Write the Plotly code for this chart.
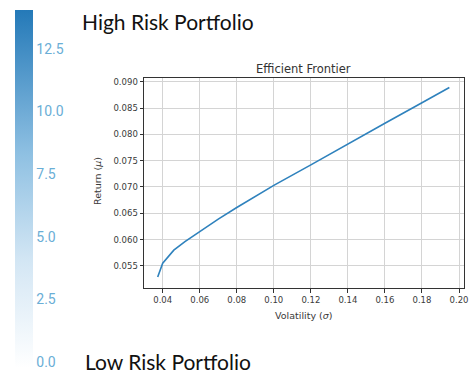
import plotly.graph_objects as go

W, H = 475, 381

# Efficient frontier: portfolio volatility vs. expected return
volatility = [0.0373, 0.0400, 0.0460, 0.0520, 0.0600, 0.0700, 0.0800, 0.0900,
              0.1000, 0.1200, 0.1400, 0.1600, 0.1800, 0.1948]
returns = [0.0529, 0.0555, 0.0580, 0.0596, 0.0615, 0.0639, 0.0661, 0.0682,
           0.0703, 0.0742, 0.0782, 0.0821, 0.0860, 0.0889]

# Risk scale shown on the colour bar
risk_ticks = [0.0, 2.5, 5.0, 7.5, 10.0, 12.5]
risk_tick_labels = ["0.0", "2.5", "5.0", "7.5", "10.0", "12.5"]
risk_min, risk_max = -0.25, 14.06

x_ticks = [0.04, 0.06, 0.08, 0.10, 0.12, 0.14, 0.16, 0.18, 0.20]
y_ticks = [0.055, 0.060, 0.065, 0.070, 0.075, 0.080, 0.085, 0.090]


def px_x(p):
    return p / W


def px_y(p):
    return 1 - p / H


fig = go.Figure()

fig.add_trace(go.Scatter(
    x=volatility, y=returns, mode="lines",
    line=dict(color="#2f82bd", width=1.6),
    showlegend=False, hoverinfo="skip",
))

# Colour bar carried by an invisible trace
fig.add_trace(go.Scatter(
    x=[None], y=[None], mode="markers", showlegend=False, hoverinfo="skip",
    marker=dict(
        color=[0], cmin=risk_min, cmax=risk_max,
        colorscale=[[0, "#ffffff"], [0.3, "#d3e6f4"], [0.6, "#8ec0e2"], [1, "#2479b8"]],
        showscale=True,
        colorbar=dict(
            x=px_x(15), xanchor="left", y=px_y(368), yanchor="bottom",
            len=358, lenmode="pixels", thickness=18, thicknessmode="pixels",
            xpad=0, ypad=0, outlinewidth=0, ticks="",
            tickvals=risk_ticks, ticktext=risk_tick_labels,
            tickfont=dict(family="Roboto", size=14, color="#6aaed6"),
        ),
    ),
))

tick_font = dict(family="DejaVu Sans", size=8.5, color="#3a3a3a")
axis_common = dict(
    showline=True, mirror=True, linecolor="#333333", linewidth=1,
    showgrid=True, gridcolor="#d4d4d4", gridwidth=1,
    ticks="outside", ticklen=3.5, tickcolor="#333333", tickwidth=1,
    tickfont=tick_font, zeroline=False, automargin=False,
)

fig.update_layout(
    width=W, height=H,
    margin=dict(l=0, r=0, t=0, b=0),
    paper_bgcolor="white", plot_bgcolor="white",
    xaxis=dict(domain=[px_x(144), px_x(464)], range=[0.0299, 0.2027],
               tickvals=x_ticks, tickformat=".2f", **axis_common),
    yaxis=dict(domain=[px_y(288), px_y(78)], range=[0.0508, 0.0907],
               tickvals=y_ticks, tickformat=".3f", **axis_common),
)

label_font = dict(family="DejaVu Sans", size=9.5, color="#3a3a3a")
fig.add_annotation(text="Efficient Frontier", x=px_x(303), y=px_y(69),
                   xref="paper", yref="paper", showarrow=False,
                   xanchor="center", yanchor="middle",
                   font=dict(family="DejaVu Sans", size=11.5, color="#333333"))
fig.add_annotation(text="Volatility (<i>σ</i>)", x=px_x(303.5), y=px_y(315),
                   xref="paper", yref="paper", showarrow=False,
                   xanchor="center", yanchor="middle", font=label_font)
fig.add_annotation(text="Return (<i>μ</i>)", x=px_x(97), y=px_y(181),
                   xref="paper", yref="paper", showarrow=False, textangle=-90,
                   xanchor="center", yanchor="middle", font=label_font)

big_font = dict(family="Lato", size=21, color="#111111")
fig.add_annotation(text="High Risk Portfolio", x=px_x(80), y=px_y(22),
                   xref="paper", yref="paper", showarrow=False,
                   xanchor="left", yanchor="middle", font=big_font)
fig.add_annotation(text="Low Risk Portfolio", x=px_x(83), y=px_y(361),
                   xref="paper", yref="paper", showarrow=False,
                   xanchor="left", yanchor="middle", font=big_font)

fig.write_html("out.html")
